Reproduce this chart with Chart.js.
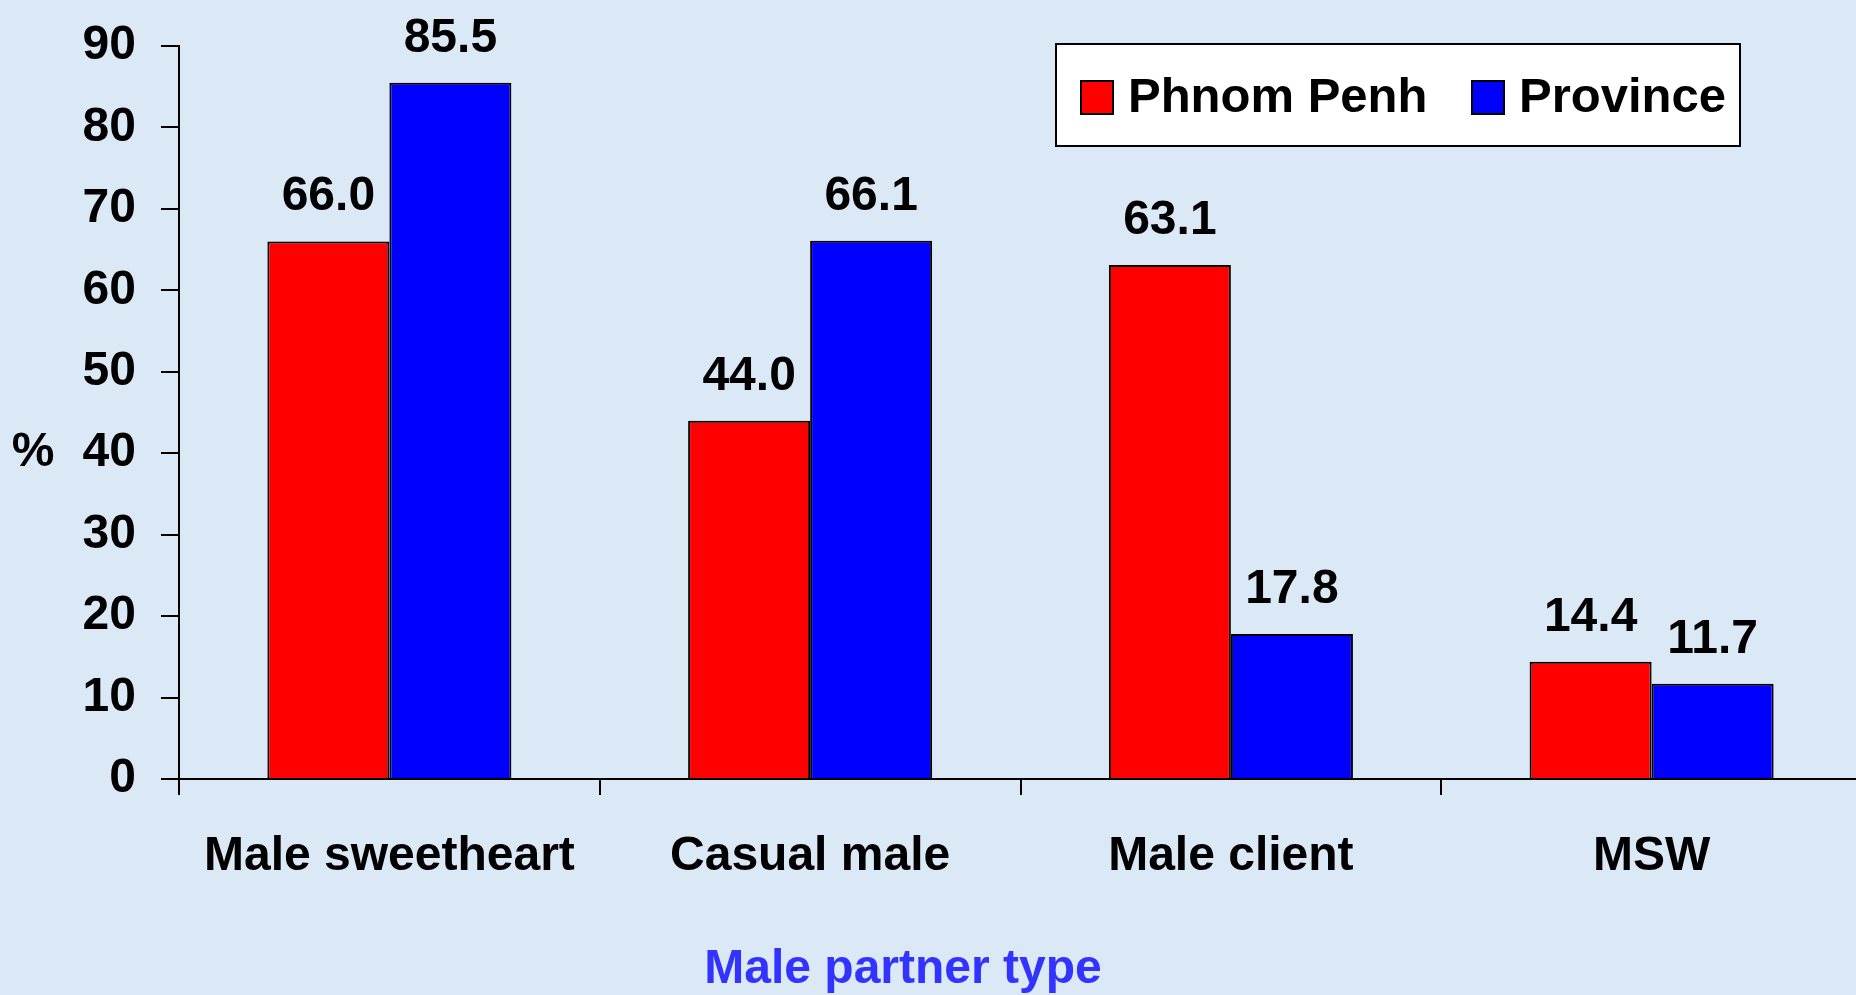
<!DOCTYPE html>
<html>
<head>
<meta charset="utf-8">
<script src="https://cdn.jsdelivr.net/npm/chart.js@4.4.0/dist/chart.umd.min.js"></script>
<style>
  html, body { margin: 0; padding: 0; overflow: hidden; background: #dbe8f6; }
  #wrap { position: relative; width: 1862px; height: 995px; }
</style>
</head>
<body>
<div id="wrap"><canvas id="barChart"></canvas></div>
<script>
const categories = ["Male sweetheart", "Casual male", "Male client", "MSW"];
const phnomPenh = [66.0, 44.0, 63.1, 14.4];
const province = [85.5, 66.1, 17.8, 11.7];
const yMin = 0, yMax = 90, yStep = 10;
const seriesNames = ["Phnom Penh", "Province"];
const xTitle = "Male partner type";
const yTitle = "%";

const FONT = "'Liberation Sans', Arial, sans-serif";
const boldFont = { family: FONT, size: 48, weight: "bold" };

// labels above bars, axis titles and the boxed legend
const extras = {
    id: "extras",
    afterDatasetsDraw(chart) {
        const ctx = chart.ctx;
        ctx.save();
        ctx.font = "bold 48px " + FONT;
        ctx.fillStyle = "#000";
        ctx.textAlign = "center";
        ctx.textBaseline = "alphabetic";
        chart.data.datasets.forEach((ds, i) => {
            chart.getDatasetMeta(i).data.forEach((bar, j) => {
                ctx.fillText(ds.data[j].toFixed(1), bar.x, bar.y - 31);
            });
        });

        ctx.textBaseline = "middle";
        ctx.fillText(yTitle, 33, chart.scales.y.getPixelForValue(40));

        ctx.fillStyle = "#3333ff";
        ctx.fillText(xTitle, 903, 970);

        // legend box
        const bx = 1056, by = 44, bw = 684, bh = 102;
        ctx.fillStyle = "#fff";
        ctx.fillRect(bx, by, bw, bh);
        ctx.strokeStyle = "#000";
        ctx.lineWidth = 2;
        ctx.strokeRect(bx, by, bw, bh);
        ctx.font = "bold 49px " + FONT;
        ctx.textAlign = "left";
        const itemX = [bx + 25, bx + 416];
        chart.data.datasets.forEach((ds, i) => {
            ctx.fillStyle = ds.backgroundColor;
            ctx.fillRect(itemX[i], by + 37, 32, 33);
            ctx.strokeRect(itemX[i], by + 37, 32, 33);
            ctx.fillStyle = "#000";
            ctx.fillText(ds.label, itemX[i] + 47, by + 54);
        });
        ctx.restore();
    }
};

new Chart(document.getElementById("barChart").getContext("2d"), {
    type: "bar",
    data: {
        labels: categories,
        datasets: [
            { label: seriesNames[0], data: phnomPenh, backgroundColor: "#ff0000", borderColor: "#000", borderWidth: 2 },
            { label: seriesNames[1], data: province, backgroundColor: "#0000ff", borderColor: "#000", borderWidth: 2 }
        ]
    },
    options: {
        responsive: true,
        maintainAspectRatio: false,
        animation: false,
        datasets: { bar: { barPercentage: 1, categoryPercentage: 0.58 } },
        layout: { padding: { top: 46, right: 0, bottom: 0, left: 0 } },
        plugins: { legend: { display: false }, tooltip: { enabled: false } },
        scales: {
            x: {
                grid: { drawOnChartArea: false, color: "#000", lineWidth: 2, tickLength: 16 },
                border: { color: "#000", width: 2 },
                ticks: { color: "#000", font: boldFont, padding: 33, maxRotation: 0, autoSkip: false },
                afterFit(scale) { scale.height = 216; }
            },
            y: {
                min: yMin,
                max: yMax,
                grid: { drawOnChartArea: false, color: "#000", lineWidth: 2, tickLength: 18 },
                border: { color: "#000", width: 2 },
                ticks: { stepSize: yStep, color: "#000", font: boldFont, padding: 25 },
                afterFit(scale) {
                    scale.width = 179;
                    scale.paddingTop = 0;
                    scale.paddingBottom = 0;
                }
            }
        }
    },
    plugins: [extras]
});
</script>
</body>
</html>
